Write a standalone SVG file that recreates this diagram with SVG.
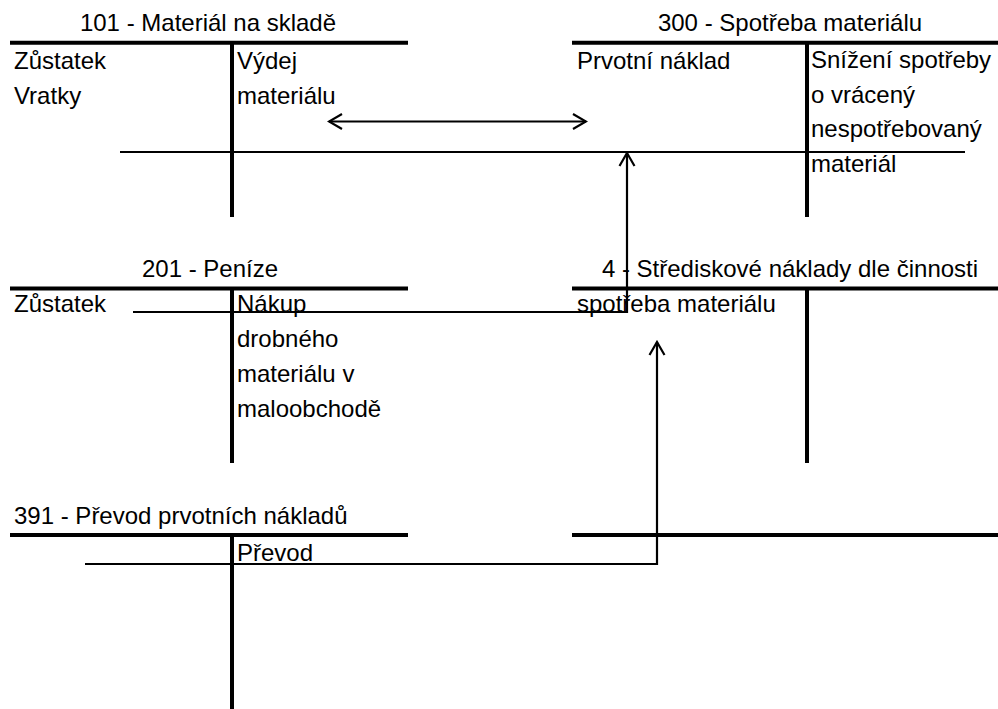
<svg xmlns="http://www.w3.org/2000/svg" width="998" height="709" viewBox="0 0 998 709">
  <style>
    .bar { stroke: #000; stroke-width: 4; fill: none; }
    .wire { stroke: #000; stroke-width: 2.2; fill: none; }
    text { font-family: "Liberation Sans", Arial, sans-serif; font-size: 24px; fill: #000; }
    .title { text-anchor: middle; }
  </style>
  <defs>
    <marker id="openArrow" viewBox="-16 -10 18 20" refX="0" refY="0" markerWidth="18" markerHeight="20" markerUnits="userSpaceOnUse" orient="auto-start-reverse">
      <path d="M-13,-7.5 L0,0 L-13,7.5" fill="none" stroke="#000" stroke-width="2.2" stroke-linejoin="miter"/>
    </marker>
  </defs>
  <rect width="998" height="709" fill="#fff"/>

  <!-- T-account 101 -->
  <g id="acc-101">
    <text class="title" x="208" y="31">101 - Materiál na skladě</text>
    <line class="bar" x1="10" y1="42.7" x2="408" y2="42.7"/>
    <line class="bar" x1="232" y1="42.7" x2="232" y2="217"/>
    <text x="14" y="69">Zůstatek</text>
    <text x="14" y="103.5">Vratky</text>
    <text x="237" y="69">Výdej</text>
    <text x="237" y="103.5">materiálu</text>
  </g>

  <!-- T-account 300 -->
  <g id="acc-300">
    <text class="title" x="790" y="31">300 - Spotřeba materiálu</text>
    <line class="bar" x1="572" y1="42.7" x2="998" y2="42.7"/>
    <line class="bar" x1="807" y1="42.7" x2="807" y2="217"/>
    <text x="577" y="69">Prvotní náklad</text>
    <text x="811" y="68">Snížení spotřeby</text>
    <text x="811" y="102.5">o vrácený</text>
    <text x="811" y="137">nespotřebovaný</text>
    <text x="811" y="171.5">materiál</text>
  </g>

  <!-- T-account 201 -->
  <g id="acc-201">
    <text class="title" x="210" y="277">201 - Peníze</text>
    <line class="bar" x1="10" y1="288.5" x2="408" y2="288.5"/>
    <line class="bar" x1="232" y1="288.5" x2="232" y2="463"/>
    <text x="14" y="312">Zůstatek</text>
    <text x="237" y="312">Nákup</text>
    <text x="237" y="347">drobného</text>
    <text x="237" y="382">materiálu v</text>
    <text x="237" y="417">maloobchodě</text>
  </g>

  <!-- T-account 4 -->
  <g id="acc-4">
    <text class="title" x="790" y="277">4 - Střediskové náklady dle činnosti</text>
    <line class="bar" x1="572" y1="288.5" x2="998" y2="288.5"/>
    <line class="bar" x1="807" y1="288.5" x2="807" y2="463"/>
    <text x="577" y="312">spotřeba materiálu</text>
  </g>

  <!-- T-account 391 -->
  <g id="acc-391">
    <text x="14" y="524">391 - Převod prvotních nákladů</text>
    <line class="bar" x1="10" y1="535" x2="408" y2="535"/>
    <line class="bar" x1="232" y1="535" x2="232" y2="709"/>
    <text x="237" y="561">Převod</text>
  </g>

  <!-- unlabelled account header on the right -->
  <g id="acc-blank">
    <line class="bar" x1="572" y1="535" x2="998" y2="535"/>
  </g>

  <!-- connectors -->
  <g id="connectors">
    <line class="wire" x1="120" y1="152" x2="965" y2="152"/>
    <line class="wire" x1="329" y1="121.5" x2="586" y2="121.5" marker-start="url(#openArrow)" marker-end="url(#openArrow)"/>
    <polyline class="wire" points="133,312 627,312 627,153" marker-end="url(#openArrow)"/>
    <polyline class="wire" points="85,564 657,564 657,342" marker-end="url(#openArrow)"/>
  </g>
</svg>
